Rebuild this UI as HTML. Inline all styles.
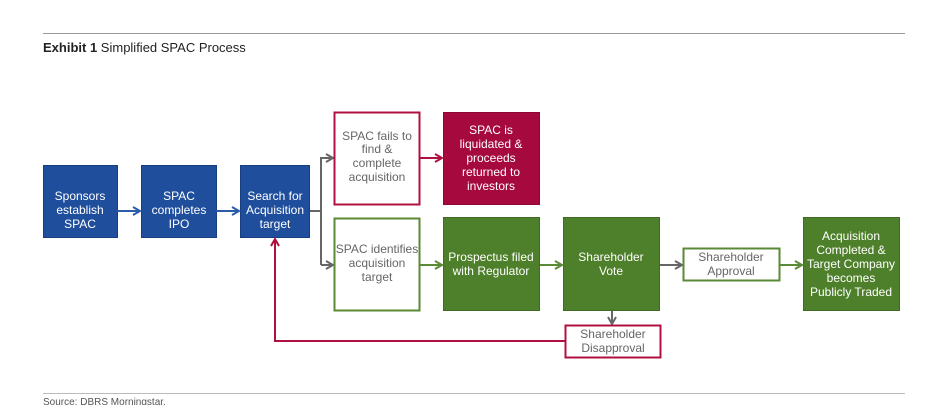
<!DOCTYPE html>
<html><head><style>
body{margin:0;background:#fff;width:942px;height:405px;overflow:hidden}
svg{display:block}
text{font-family:"Liberation Sans Narrow","Liberation Sans",sans-serif;font-size:12px;text-anchor:middle}
.w{fill:#fff}.g{fill:#666}
</style></head><body>
<svg width="942" height="405" viewBox="0 0 942 405">
<defs>
<marker id="ab" markerWidth="10" markerHeight="10" refX="8" refY="5" orient="auto" markerUnits="userSpaceOnUse"><path d="M1,1 L8,5 L1,9" fill="none" stroke="#2a5caa" stroke-width="2"/></marker>
<marker id="ag" markerWidth="10" markerHeight="10" refX="8" refY="5" orient="auto" markerUnits="userSpaceOnUse"><path d="M1,1 L8,5 L1,9" fill="none" stroke="#666" stroke-width="2"/></marker>
<marker id="ar" markerWidth="10" markerHeight="10" refX="8" refY="5" orient="auto" markerUnits="userSpaceOnUse"><path d="M1,1 L8,5 L1,9" fill="none" stroke="#b0103f" stroke-width="2"/></marker>
<marker id="an" markerWidth="10" markerHeight="10" refX="8" refY="5" orient="auto" markerUnits="userSpaceOnUse"><path d="M1,1 L8,5 L1,9" fill="none" stroke="#5b8a37" stroke-width="2"/></marker>
</defs>
<line x1="43" y1="33.5" x2="905" y2="33.5" stroke="#999" stroke-width="1"/>
<text x="43" y="52" style="text-anchor:start;font-size:13px" fill="#222"><tspan font-weight="bold">Exhibit 1</tspan>  Simplified SPAC Process</text>

<g fill="#1f4e9c" stroke="#173f80" stroke-width="1">
<rect x="43.5" y="165.5" width="74" height="72"/>
<rect x="141.5" y="165.5" width="75" height="72"/>
<rect x="240.5" y="165.5" width="69" height="72"/>
</g>
<text class="w" x="80" y="200">Sponsors</text><text class="w" x="80" y="214">establish</text><text class="w" x="80" y="228">SPAC</text>
<text class="w" x="179" y="200">SPAC</text><text class="w" x="179" y="214">completes</text><text class="w" x="179" y="228">IPO</text>
<text class="w" x="275" y="200">Search for</text><text class="w" x="275" y="214">Acquisition</text><text class="w" x="275" y="228">target</text>

<line x1="117" y1="211" x2="140" y2="211" stroke="#2a5caa" stroke-width="2" marker-end="url(#ab)"/>
<line x1="216" y1="211" x2="239" y2="211" stroke="#2a5caa" stroke-width="2" marker-end="url(#ab)"/>

<path d="M310,211 H321 M321,157 V265 M321,158 H333 M321,265 H333" fill="none" stroke="#666" stroke-width="2"/>
<line x1="321" y1="158" x2="333" y2="158" stroke="#666" stroke-width="2" marker-end="url(#ag)"/>
<line x1="321" y1="265" x2="333" y2="265" stroke="#666" stroke-width="2" marker-end="url(#ag)"/>

<rect x="334.5" y="112.5" width="85" height="92" fill="#fff" stroke="#b0103f" stroke-width="2"/>
<text class="g" x="377" y="140">SPAC fails to</text><text class="g" x="377" y="153">find &amp;</text><text class="g" x="377" y="167">complete</text><text class="g" x="377" y="181">acquisition</text>
<line x1="420" y1="158" x2="442" y2="158" stroke="#b0103f" stroke-width="2" marker-end="url(#ar)"/>
<rect x="443.5" y="112.5" width="96" height="92" fill="#a6093d" stroke="#8e0834"/>
<text class="w" x="491" y="134">SPAC is</text><text class="w" x="491" y="148">liquidated &amp;</text><text class="w" x="491" y="162">proceeds</text><text class="w" x="491" y="176">returned to</text><text class="w" x="491" y="190">investors</text>

<rect x="334.5" y="218.5" width="85" height="92" fill="#fff" stroke="#5b8a37" stroke-width="2"/>
<text class="g" x="377" y="253">SPAC identifies</text><text class="g" x="377" y="267">acquisition</text><text class="g" x="377" y="281">target</text>
<line x1="420" y1="265" x2="442" y2="265" stroke="#5b8a37" stroke-width="2" marker-end="url(#an)"/>

<g fill="#4e7f2a" stroke="#3f6b22">
<rect x="443.5" y="217.5" width="96" height="93"/>
<rect x="563.5" y="217.5" width="96" height="93"/>
<rect x="803.5" y="217.5" width="96" height="93"/>
</g>
<text class="w" x="491" y="261">Prospectus filed</text><text class="w" x="491" y="275">with Regulator</text>
<line x1="540" y1="265" x2="562" y2="265" stroke="#5b8a37" stroke-width="2" marker-end="url(#an)"/>
<text class="w" x="611" y="261">Shareholder</text><text class="w" x="611" y="275">Vote</text>
<line x1="660" y1="265" x2="682" y2="265" stroke="#666" stroke-width="2" marker-end="url(#ag)"/>
<rect x="683.5" y="248.5" width="96" height="32" fill="#fff" stroke="#5b8a37" stroke-width="2"/>
<text class="g" x="731" y="261">Shareholder</text><text class="g" x="731" y="275">Approval</text>
<line x1="780" y1="265" x2="802" y2="265" stroke="#5b8a37" stroke-width="2" marker-end="url(#an)"/>
<text class="w" x="851" y="240">Acquisition</text><text class="w" x="851" y="254">Completed &amp;</text><text class="w" x="851" y="268">Target Company</text><text class="w" x="851" y="282">becomes</text><text class="w" x="851" y="296">Publicly Traded</text>

<line x1="612" y1="311" x2="612" y2="324" stroke="#666" stroke-width="2" marker-end="url(#ag)"/>
<rect x="565.5" y="325.5" width="95" height="32" fill="#fff" stroke="#b0103f" stroke-width="2"/>
<text class="g" x="613" y="338">Shareholder</text><text class="g" x="613" y="352">Disapproval</text>
<path d="M565,341 H275 V239" fill="none" stroke="#b0103f" stroke-width="2" marker-end="url(#ar)"/>

<line x1="43" y1="393.5" x2="905" y2="393.5" stroke="#bbb" stroke-width="1"/>
<text x="43" y="405" style="text-anchor:start;font-size:10px" fill="#555">Source: DBRS Morningstar.</text>
</svg>
</body></html>
